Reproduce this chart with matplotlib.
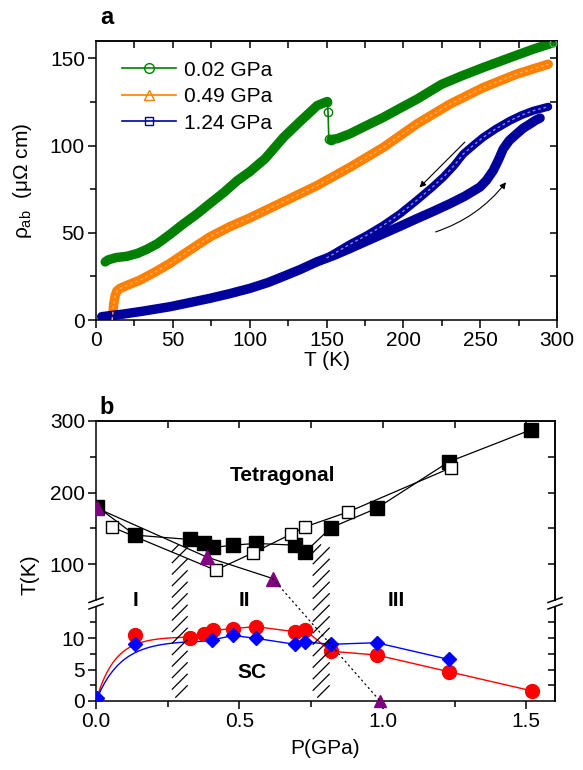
import numpy as np
import matplotlib
matplotlib.use("Agg")
import matplotlib.pyplot as plt
from matplotlib.lines import Line2D
from matplotlib.patches import ConnectionPatch

plt.rcParams["font.family"] = ["Liberation Sans", "DejaVu Sans"]
plt.rcParams["mathtext.fontset"] = "custom"
plt.rcParams["mathtext.rm"] = "Liberation Sans"
plt.rcParams["mathtext.it"] = "Liberation Sans"
plt.rcParams["mathtext.bf"] = "Liberation Sans:bold"

FS = 15

# ---------------- panel a: in-plane resistivity vs temperature ----------------
green_T = [6, 8, 13, 20, 27, 33, 40, 48, 57, 66, 74, 83, 92, 100, 110, 122, 133, 144, 150.5]
green_R = [33.3, 34.5, 35.8, 36.5, 38.2, 40.5, 43.8, 49.0, 55.2, 61.0, 66.7, 73.0, 80.0, 85.0,
           92.5, 104.7, 114.0, 123.0, 125.3]
green_jump_T = [150.5, 151.0, 151.5, 153.0]
green_jump_R = [125.3, 119.0, 104.0, 103.5]
green2_T = [153, 157, 165, 176, 187, 198, 209, 218, 225, 238, 252, 268, 284.5, 297.5]
green2_R = [103.5, 104.0, 106.7, 111.5, 116.2, 121.5, 126.7, 131.5, 135.2, 140.0, 144.8, 150.0,
            155.3, 159.0]

orange_T = [10.5, 11, 11.5, 12.5, 13.5, 15.5, 20, 28.6, 38, 48, 60, 74, 87, 100, 113, 126,
            143.6, 165.3, 187, 208.7, 230.3, 252, 273.7, 294.3]
orange_R = [0, 4, 9, 14, 16.5, 18.1, 19.8, 22.9, 27.3, 32.4, 39.5, 47.6, 53.5, 58.5, 64.0,
            69.5, 77.0, 87.6, 99.0, 112.4, 123.8, 133.3, 141.0, 146.7]

# 1.24 GPa: warming branch and cooling branch (thermal hysteresis)
blue_warm_T = [3.7, 10, 17.8, 30, 48, 60, 74, 87, 100, 112, 121.9, 133, 143.6, 155, 165.3, 176,
               187, 198, 208.7, 220, 230.3, 240, 249.8, 254, 258.5, 262, 265, 269, 273.7, 278,
               282.4, 286, 289]
blue_warm_R = [1.9, 2.6, 3.4, 5.0, 7.6, 9.8, 12.4, 15.1, 18.1, 21.5, 25.0, 29.0, 33.3, 37.1,
               41.0, 45.2, 49.5, 53.8, 58.1, 62.5, 66.7, 71.0, 76.2, 80.0, 85.7, 92.0, 98.1,
               103.0, 106.7, 110.0, 112.4, 114.5, 115.8]
blue_cool_T = [150, 165.3, 176, 187, 198, 208.7, 218, 226, 233, 239, 246, 252, 260, 269.4, 277,
               284.5, 294.3]
blue_cool_R = [35.5, 43.5, 48.5, 54.3, 61.0, 68.6, 75.5, 81.9, 88.5, 95.2, 100.5, 104.8, 109.5,
               114.3, 117.5, 120.0, 122.3]

legend_labels = ["0.02 GPa", "0.49 GPa", "1.24 GPa"]

# ---------------- panel b: pressure-temperature phase diagram ----------------
sq_full_P = [0.005, 0.136, 0.3275, 0.377, 0.409, 0.478, 0.557, 0.693, 0.728, 0.818, 0.978, 1.23, 1.518]
sq_full_T = [180, 140.6, 134.5, 130.3, 123.4, 126.6, 129, 126.6, 116.4, 150.8, 178, 243, 288]
sq_open_P = [0.055, 0.417, 0.548, 0.678, 0.728, 0.879, 1.239]
sq_open_T = [152, 91.6, 116, 141.5, 152, 173, 235]
tri_P = [0.005, 0.386, 0.616]
tri_T = [178, 110, 80]
tri_end_P = 0.99
tri_end_T = 0.0

tc_red_P = [0.136, 0.327, 0.376, 0.409, 0.478, 0.557, 0.693, 0.728, 0.818, 0.978, 1.23, 1.52]
tc_red_T = [10.5, 10.05, 10.7, 11.2, 11.5, 11.8, 11.0, 11.3, 7.9, 7.3, 4.65, 1.6]
tc_blue_P = [0.005, 0.136, 0.406, 0.478, 0.557, 0.693, 0.728, 0.818, 0.978, 1.23]
tc_blue_T = [0.4, 9.0, 9.7, 10.4, 9.95, 9.0, 9.4, 9.0, 9.25, 6.6]

# saturating guide-to-the-eye curves at low pressure: Tmax * (1 - exp(-P / P0))
red_guide = dict(tmax=10.2, p0=0.065, p_end=0.327)
blue_guide = dict(tmax=9.6, p0=0.085, p_end=0.406)

# boundaries between regions I / II / III (hatched bands)
bands_P = [(0.266, 0.318), (0.757, 0.813)]
band_top_T = 127
band_bottom_T = 0.6

GREEN, ORANGE, NAVY, PURPLE = "#008000", "#ff8000", "#00009c", "#800080"
RED, BLUE = "#ff0000", "#0000ff"

W, H = 583, 770
fig = plt.figure(figsize=(W / 100, H / 100), dpi=100)


def rect(x0, y0, x1, y1):
    return [x0 / W, 1 - y1 / H, (x1 - x0) / W, (y1 - y0) / H]


def style_axes(ax):
    for s in ax.spines.values():
        s.set_linewidth(1.1)
    ax.tick_params(which="both", direction="out", width=1.1, labelsize=FS,
                   top=False, right=False, pad=2)
    ax.tick_params(which="major", length=6)
    ax.tick_params(which="minor", length=4)


def mirror_x(ax, ticks):
    sx = ax.secondary_xaxis("top")
    sx.set_xticks(ticks)
    sx.tick_params(direction="in", length=5, width=1.1, labeltop=False)
    sx.spines["top"].set_linewidth(1.1)


def mirror_y(ax, ticks):
    sy = ax.secondary_yaxis("right")
    sy.set_yticks(ticks)
    sy.tick_params(direction="in", length=5, width=1.1, labelright=False)
    sy.spines["right"].set_linewidth(1.1)


# ================= panel a =================
ax = fig.add_axes(rect(96, 41, 557, 320))
style_axes(ax)
ax.set_xlim(0, 300)
ax.set_ylim(0, 160)
ax.set_xticks(np.arange(0, 301, 50))
ax.set_xticks(np.arange(25, 300, 50), minor=True)
ax.set_yticks([0, 50, 100, 150])
ax.set_yticks([25, 75, 125], minor=True)
mirror_x(ax, np.arange(25, 300, 25))
mirror_y(ax, np.arange(25, 160, 25))

BAND = 6.8


def band(T, R, color, lw=BAND, texture=None):
    ax.plot(T, R, color=color, lw=lw, solid_capstyle="round", solid_joinstyle="round", zorder=2)
    if texture:
        ax.plot(T, R, color=texture, lw=1.0, ls=(0, (2, 2)), zorder=3)


band(green_T, green_R, GREEN)
ax.plot(green_jump_T, green_jump_R, color=GREEN, lw=1.2, marker="o", mfc="none", mec=GREEN,
        ms=6, mew=1.0, zorder=3)
band(green2_T, green2_R, GREEN)
ax.plot(green2_T[-1:], green2_R[-1:], ls="none", marker="o", mfc="none", mec="#5fb85f",
        ms=5, mew=0.8, zorder=3)
band(orange_T, orange_R, ORANGE, texture="#ffb060")
band(blue_warm_T, blue_warm_R, NAVY)
band(blue_cool_T, blue_cool_R, NAVY, lw=5.8, texture="#8a8ad0")

# cooling / warming arrows
ax.annotate("", xy=(210.5, 76.0), xytext=(240.0, 102.0),
            arrowprops=dict(arrowstyle="-|>", lw=0.8, color="k", mutation_scale=9,
                            shrinkA=0, shrinkB=0))
ax.annotate("", xy=(266.8, 79.0), xytext=(221.0, 50.5),
            arrowprops=dict(arrowstyle="-|>", lw=0.8, color="k", mutation_scale=9,
                            shrinkA=0, shrinkB=0, connectionstyle="arc3,rad=0.15"))

handles = [
    Line2D([], [], color=GREEN, marker="o", mfc="none", mec=GREEN, ms=7, lw=1.2),
    Line2D([], [], color=ORANGE, marker="^", mfc="none", mec=ORANGE, ms=7, lw=1.2),
    Line2D([], [], color=NAVY, marker="s", mfc="none", mec=NAVY, ms=6, lw=1.2),
]
ax.legend(handles, legend_labels, loc="upper left", bbox_to_anchor=(0.056, 0.93),
          frameon=False, fontsize=FS, handlelength=2.6, handletextpad=0.4,
          labelspacing=0.36, borderpad=0, borderaxespad=0)

ax.set_xlabel("T (K)", fontsize=FS, labelpad=1)
ax.set_ylabel(r"$\rho_{\mathrm{ab}}\ \ (\mu\Omega\ \mathrm{cm})$", fontsize=FS)
ax.yaxis.set_label_coords(-0.135, 0.5)
fig.text(107 / W, 1 - 17 / H, "a", fontsize=17, fontweight="bold", ha="center", va="center")

# ================= panel b (broken temperature axis) =================
XMAX = 1.6
ax_t = fig.add_axes(rect(96, 421, 555, 600))
ax_b = fig.add_axes(rect(96, 606.5, 555, 701))
for a in (ax_t, ax_b):
    style_axes(a)
    a.set_xlim(0, XMAX)
ax_t.set_ylim(50, 300)
ax_b.set_ylim(0, 15)
ax_t.spines["bottom"].set_visible(False)
ax_b.spines["top"].set_visible(False)
ax_t.tick_params(axis="x", which="both", bottom=False, labelbottom=False)
ax_t.set_yticks([100, 200, 300])
ax_t.set_yticks([150, 250], minor=True)
ax_b.set_yticks([0, 5, 10])
ax_b.set_yticks([2.5, 7.5, 12.5], minor=True)
ax_b.set_xticks([0, 0.5, 1.0, 1.5])
ax_b.set_xticklabels(["0.0", "0.5", "1.0", "1.5"])
ax_b.set_xticks([0.25, 0.75, 1.25], minor=True)
mirror_x(ax_t, np.arange(0.25, 1.51, 0.25))
mirror_y(ax_t, [100, 150, 200, 250])
mirror_y(ax_b, [2.5, 5, 7.5, 10, 12.5])

# structural transition lines
ax_t.plot(sq_full_P, sq_full_T, color="k", lw=0.9, marker="s", ms=9.5, mfc="k", mec="k", zorder=4)
ax_t.plot(sq_open_P, sq_open_T, color="k", lw=0.9, marker="s", ms=8.5, mfc="white", mec="k",
          mew=1.0, zorder=5)
ax_t.plot(tri_P, tri_T, color="k", lw=0.9, zorder=3)
ax_t.plot(tri_P, tri_T, ls="none", marker="^", ms=10, mfc=PURPLE, mec=PURPLE, zorder=6)
ax_b.plot([tri_end_P], [tri_end_T], ls="none", marker="^", ms=8, mfc=PURPLE, mec=PURPLE,
          clip_on=False, zorder=6)
fig.add_artist(ConnectionPatch(xyA=(tri_P[-1], tri_T[-1]), coordsA=ax_t.transData,
                               xyB=(tri_end_P, tri_end_T), coordsB=ax_b.transData,
                               color="k", lw=0.9, ls=(0, (1, 3))))


# superconducting Tc lines
def guide_curve(g):
    p = np.linspace(0, g["p_end"], 80)
    return p, g["tmax"] * (1 - np.exp(-p / g["p0"]))


gp, gt = guide_curve(red_guide)
ax_b.plot(np.r_[gp, tc_red_P[1:]], np.r_[gt, tc_red_T[1:]], color=RED, lw=1.0, zorder=3)
gp, gt = guide_curve(blue_guide)
ax_b.plot(np.r_[gp, tc_blue_P[2:]], np.r_[gt, tc_blue_T[2:]], color=BLUE, lw=1.0, zorder=3)
ax_b.plot(tc_red_P, tc_red_T, ls="none", marker="o", ms=10, mfc=RED, mec=RED, zorder=4)
ax_b.plot(tc_blue_P, tc_blue_T, ls="none", marker="D", ms=7.5, mfc=BLUE, mec=BLUE, zorder=5)

# hatched bands between the phase regions (45 degree strokes)
inv = fig.transFigure.inverted()
for p0, p1 in bands_P:
    xa, yb = ax_t.transData.transform((p0, band_top_T))
    xb, _ = ax_t.transData.transform((p1, band_top_T))
    _, ya = ax_b.transData.transform((p0, band_bottom_T))
    step = 11.5
    c = ya - xb
    while c < yb - xa:
        xs = max(xa, ya - c)
        xe = min(xb, yb - c)
        if xe > xs:
            pts = inv.transform([(xs, xs + c), (xe, xe + c)])
            fig.add_artist(Line2D(pts[:, 0], pts[:, 1], color="k", lw=0.9,
                                  transform=fig.transFigure))
        c += step

# axis break marks on both spines
for xpx in (96, 555):
    for ypx in (600, 606.5):
        fig.add_artist(Line2D([(xpx - 7) / W, (xpx + 7) / W],
                              [1 - (ypx + 2.5) / H, 1 - (ypx - 2.5) / H],
                              color="k", lw=1.1, transform=fig.transFigure))


def ftext(x, y, s, **kw):
    fig.text(x / W, 1 - y / H, s, ha="center", va="center", fontsize=FS, **kw)


ftext(282, 475, "Tetragonal", fontweight="bold")
ftext(135, 601, "I", fontweight="bold")
ftext(244, 601, "II", fontweight="bold")
ftext(396, 601, "III", fontweight="bold")
ftext(252, 672, "SC", fontweight="bold")
ftext(30, 575, "T(K)", rotation=90)
ax_b.set_xlabel("P(GPa)", fontsize=FS, labelpad=6)
fig.text(107 / W, 1 - 407 / H, "b", fontsize=17, fontweight="bold", ha="center", va="center")

fig.savefig("out.png", dpi=100)
